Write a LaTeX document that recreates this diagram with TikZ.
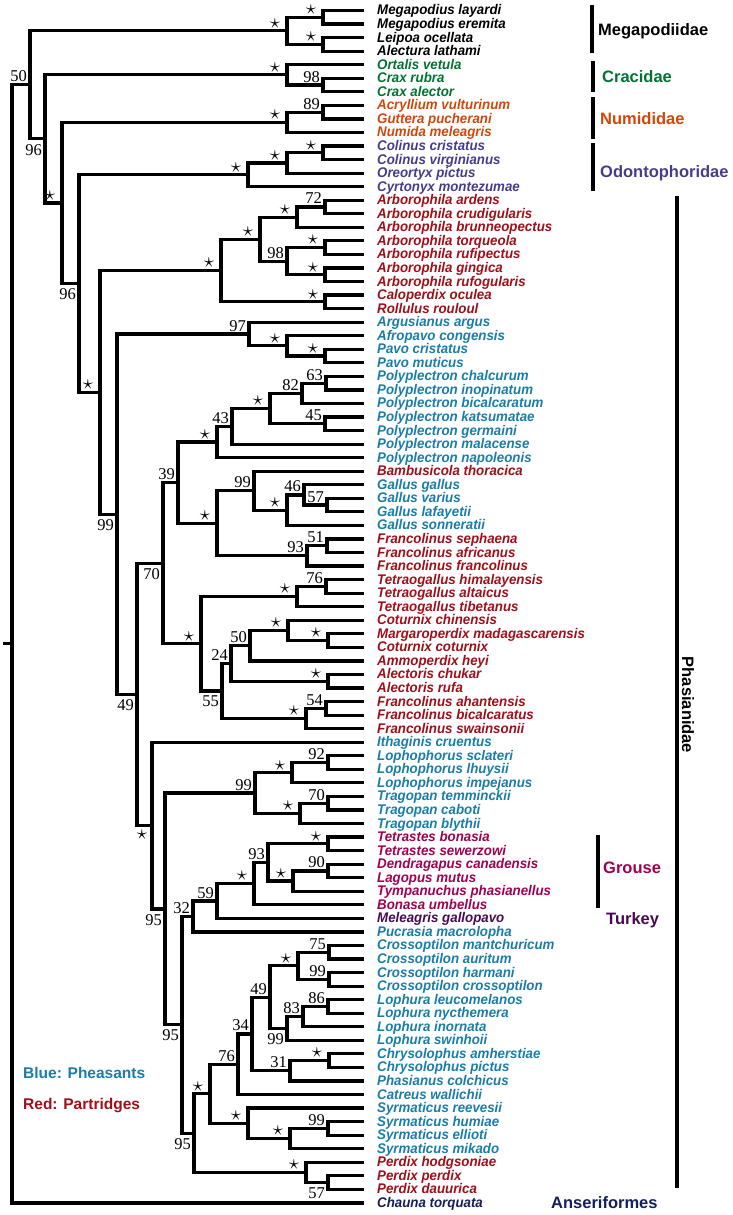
\documentclass[tikz,border=0pt]{standalone}
\usepackage{fontspec}
\setmainfont{Liberation Serif}
\setsansfont{Liberation Sans}
\newfontfamily\taxfont[FakeStretch=0.95]{Liberation Sans}
\usetikzlibrary{calc}

\definecolor{cracid}{RGB}{0,115,50}
\definecolor{numid}{RGB}{210,70,10}
\definecolor{odonto}{RGB}{70,60,140}
\definecolor{partr}{RGB}{160,15,25}
\definecolor{pheas}{RGB}{25,125,168}
\definecolor{grouse}{RGB}{160,0,80}
\definecolor{turkey}{RGB}{70,10,80}
\definecolor{anser}{RGB}{20,30,90}

% clade: name, x, upper child, lower child
\newcommand{\mkclade}[4]{%
  \path let \p1=(#3), \p2=(#4) in coordinate (#1) at (#2pt, {(\y1+\y2)/2});
  \draw[branch] (#3) -| (#1) |- (#4);}
\newcommand{\bsup}[2]{\node[bs, anchor=base east] at ([xshift=-3pt, yshift=3pt]#1) {#2};}
\newcommand{\bsdn}[2]{\node[bs, anchor=north east] at ([xshift=-3pt, yshift=-5pt]#1) {#2};}
\newcommand{\stup}[1]{\node[st] at ([xshift=-12pt, yshift=7.5pt]#1) {$\star$};}
\newcommand{\stdn}[1]{\node[st] at ([xshift=-10pt, yshift=-9pt]#1) {$\star$};}

\begin{document}
\begin{tikzpicture}[x=1pt, y=-1pt,
    branch/.style={line width=3.2pt},
    bar/.style={line width=3.2pt},
    bs/.style={font=\fontsize{16.5}{16.5}\selectfont, inner sep=0pt},
    st/.style={font=\fontsize{21}{21}\selectfont, inner sep=0pt},
    taxon/.style={font=\taxfont\bfseries\itshape\fontsize{14}{14}\selectfont, inner sep=0pt, anchor=base west},
    grp/.style={font=\sffamily\bfseries\fontsize{16.5}{16.5}\selectfont, inner sep=0pt, anchor=base west}]
    \useasboundingbox (0,0) rectangle (732,1215);

    % tips
    \foreach \sp/\col [count=\i] in {Megapodius layardi/black, Megapodius eremita/black, Leipoa ocellata/black, Alectura lathami/black,
        Ortalis vetula/cracid, Crax rubra/cracid, Crax alector/cracid,
        Acryllium vulturinum/numid, Guttera pucherani/numid, Numida meleagris/numid,
        Colinus cristatus/odonto, Colinus virginianus/odonto, Oreortyx pictus/odonto, Cyrtonyx montezumae/odonto,
        Arborophila ardens/partr, Arborophila crudigularis/partr, Arborophila brunneopectus/partr, Arborophila torqueola/partr,
        Arborophila rufipectus/partr, Arborophila gingica/partr, Arborophila rufogularis/partr, Caloperdix oculea/partr, Rollulus rouloul/partr,
        Argusianus argus/pheas, Afropavo congensis/pheas, Pavo cristatus/pheas, Pavo muticus/pheas,
        Polyplectron chalcurum/pheas, Polyplectron inopinatum/pheas, Polyplectron bicalcaratum/pheas, Polyplectron katsumatae/pheas,
        Polyplectron germaini/pheas, Polyplectron malacense/pheas, Polyplectron napoleonis/pheas,
        Bambusicola thoracica/partr, Gallus gallus/pheas, Gallus varius/pheas, Gallus lafayetii/pheas, Gallus sonneratii/pheas,
        Francolinus sephaena/partr, Francolinus africanus/partr, Francolinus francolinus/partr,
        Tetraogallus himalayensis/partr, Tetraogallus altaicus/partr, Tetraogallus tibetanus/partr,
        Coturnix chinensis/partr, Margaroperdix madagascarensis/partr, Coturnix coturnix/partr, Ammoperdix heyi/partr,
        Alectoris chukar/partr, Alectoris rufa/partr, Francolinus ahantensis/partr, Francolinus bicalcaratus/partr, Francolinus swainsonii/partr,
        Ithaginis cruentus/pheas, Lophophorus sclateri/pheas, Lophophorus lhuysii/pheas, Lophophorus impejanus/pheas,
        Tragopan temminckii/pheas, Tragopan caboti/pheas, Tragopan blythii/pheas,
        Tetrastes bonasia/grouse, Tetrastes sewerzowi/grouse, Dendragapus canadensis/grouse, Lagopus mutus/grouse,
        Tympanuchus phasianellus/grouse, Bonasa umbellus/grouse, Meleagris gallopavo/turkey, Pucrasia macrolopha/pheas,
        Crossoptilon mantchuricum/pheas, Crossoptilon auritum/pheas, Crossoptilon harmani/pheas, Crossoptilon crossoptilon/pheas,
        Lophura leucomelanos/pheas, Lophura nycthemera/pheas, Lophura inornata/pheas, Lophura swinhoii/pheas,
        Chrysolophus amherstiae/pheas, Chrysolophus pictus/pheas, Phasianus colchicus/pheas, Catreus wallichii/pheas,
        Syrmaticus reevesii/pheas, Syrmaticus humiae/pheas, Syrmaticus ellioti/pheas, Syrmaticus mikado/pheas,
        Perdix hodgsoniae/partr, Perdix perdix/partr, Perdix dauurica/partr, Chauna torquata/anser} {
        \coordinate (t\i) at (364, {10.5+13.55*(\i-1)});
        \node[taxon, text=\col] at ([xshift=13pt, yshift=-4.5pt]t\i) {\sp};
    }

    % Megapodiidae, Cracidae, Numididae, Odontophoridae
    \mkclade{a1}{323}{t1}{t2} \stup{a1}
    \mkclade{a2}{323}{t3}{t4} \stup{a2}
    \mkclade{mega}{287}{a1}{a2} \stup{mega}
    \mkclade{c1}{323}{t6}{t7} \bsup{c1}{98}
    \mkclade{crac}{287}{t5}{c1} \stup{crac}
    \mkclade{n1}{323}{t8}{t9} \bsup{n1}{89}
    \mkclade{numi}{287}{n1}{t10} \stup{numi}
    \mkclade{o1}{323}{t11}{t12} \stup{o1}
    \mkclade{o2}{287}{o1}{t13} \stup{o2}
    \mkclade{odon}{248}{o2}{t14} \stup{odon}

    % Arborophila
    \mkclade{r1}{325}{t15}{t16} \bsup{r1}{72}
    \mkclade{r2}{297}{r1}{t17} \stup{r2}
    \mkclade{r3}{325}{t18}{t19} \stup{r3}
    \mkclade{r4}{325}{t20}{t21} \stup{r4}
    \mkclade{r5}{287}{r3}{r4} \bsup{r5}{98}
    \mkclade{r6}{260}{r2}{r5} \stup{r6}
    \mkclade{r7}{325}{t22}{t23} \stup{r7}
    \mkclade{arbo}{221}{r6}{r7} \stup{arbo}

    % Pavo, Polyplectron
    \mkclade{p1}{325}{t26}{t27} \stup{p1}
    \mkclade{p2}{287}{t25}{p1} \stup{p2}
    \mkclade{pavo}{249}{t24}{p2} \bsup{pavo}{97}
    \mkclade{y1}{326}{t28}{t29} \bsup{y1}{63}
    \mkclade{y2}{302}{y1}{t30} \bsup{y2}{82}
    \mkclade{y3}{325}{t31}{t32} \bsup{y3}{45}
    \mkclade{y4}{270}{y2}{y3} \stup{y4}
    \mkclade{y5}{232}{y4}{t33} \bsup{y5}{43}
    \mkclade{poly}{217}{y5}{t34} \stup{poly}

    % Gallus, Francolinus
    \mkclade{g1}{327}{t37}{t38} \bsup{g1}{57}
    \mkclade{g2}{304}{t36}{g1} \bsup{g2}{46}
    \mkclade{g3}{287}{g2}{t39} \stup{g3}
    \mkclade{g4}{254}{t35}{g3} \bsup{g4}{99}
    \mkclade{f1}{327}{t40}{t41} \bsup{f1}{51}
    \mkclade{f2}{307}{f1}{t42} \bsup{f2}{93}
    \mkclade{g5}{217}{g4}{f2} \stup{g5}
    \mkclade{q39}{178}{poly}{g5} \bsup{q39}{39}

    % Tetraogallus, Coturnix, Alectoris
    \mkclade{e1}{326}{t43}{t44} \bsup{e1}{76}
    \mkclade{e2}{297}{e1}{t45} \stup{e2}
    \mkclade{e3}{328}{t47}{t48} \stup{e3}
    \mkclade{e4}{288}{t46}{e3} \stup{e4}
    \mkclade{e5}{250}{e4}{t49} \bsup{e5}{50}
    \mkclade{e6}{328}{t50}{t51} \stup{e6}
    \mkclade{e7}{231}{e5}{e6} \bsup{e7}{24}
    \mkclade{e8}{326}{t52}{t53} \bsup{e8}{54}
    \mkclade{e9}{306}{e8}{t54} \stup{e9}
    \mkclade{e10}{222}{e7}{e9} \bsdn{e10}{55}
    \mkclade{e11}{201}{e2}{e10} \stup{e11}
    \mkclade{q70}{163}{q39}{e11} \bsdn{q70}{70}

    % Lophophorus, Tragopan
    \mkclade{l1}{328}{t56}{t57} \bsup{l1}{92}
    \mkclade{l2}{292}{l1}{t58} \stup{l2}
    \mkclade{l3}{328}{t59}{t60} \bsup{l3}{70}
    \mkclade{l4}{300}{l3}{t61} \stup{l4}
    \mkclade{l5}{255}{l2}{l4} \bsup{l5}{99}

    % grouse, turkey
    \mkclade{u1}{328}{t62}{t63} \stup{u1}
    \mkclade{u2}{328}{t64}{t65} \bsup{u2}{90}
    \mkclade{u3}{293}{u2}{t66} \stup{u3}
    \mkclade{u4}{268}{u1}{u3} \bsup{u4}{93}
    \mkclade{u5}{254}{u4}{t67} \stup{u5}
    \mkclade{u6}{217}{u5}{t68} \bsup{u6}{59}
    \mkclade{u7}{193}{u6}{t69} \bsup{u7}{32}

    % Crossoptilon, Lophura, Chrysolophus
    \mkclade{h1}{329}{t70}{t71} \bsup{h1}{75}
    \mkclade{h2}{329}{t72}{t73} \bsup{h2}{99}
    \mkclade{h3}{298}{h1}{h2} \stup{h3}
    \mkclade{h4}{328}{t74}{t75} \bsup{h4}{86}
    \mkclade{h5}{303}{h4}{t76} \bsup{h5}{83}
    \mkclade{h6}{287}{h5}{t77} \bsdn{h6}{99}
    \mkclade{h7}{270}{h3}{h6} \bsup{h7}{49}
    \mkclade{h8}{329}{t78}{t79} \stup{h8}
    \mkclade{h9}{290}{h8}{t80} \bsup{h9}{31}
    \mkclade{h10}{252}{h7}{h9} \bsup{h10}{34}
    \mkclade{h11}{238}{h10}{t81} \bsup{h11}{76}

    % Syrmaticus, Perdix
    \mkclade{s1}{328}{t83}{t84} \bsup{s1}{99}
    \mkclade{s2}{290}{s1}{t85} \stup{s2}
    \mkclade{s3}{248}{t82}{s2} \stup{s3}
    \mkclade{s4}{210}{h11}{s3} \stup{s4}
    \mkclade{d1}{328}{t87}{t88} \bsdn{d1}{57}
    \mkclade{d2}{306}{t86}{d1} \stup{d2}
    \mkclade{d3}{194}{s4}{d2} \bsdn{d3}{95}
    \mkclade{d4}{182}{u7}{d3} \bsdn{d4}{95}
    \mkclade{d5}{165}{l5}{d4} \bsdn{d5}{95}
    \mkclade{d6}{152}{t55}{d5} \stdn{d6}

    % backbone
    \mkclade{q49}{137}{q70}{d6} \bsdn{q49}{49}
    \mkclade{q99}{117}{pavo}{q49} \bsdn{q99}{99}
    \mkclade{k1}{100}{arbo}{q99} \stup{k1}
    \mkclade{k2}{79}{odon}{k1} \bsdn{k2}{96}
    \mkclade{k3}{62}{numi}{k2} \stup{k3}
    \mkclade{k4}{45}{crac}{k3} \bsdn{k4}{96}
    \mkclade{k5}{30}{mega}{k4} \bsup{k5}{50}
    \mkclade{root}{12}{k5}{t89}
    \coordinate (stem) at ([xshift=-9pt]root);
    \draw[branch] (root) -- (stem);

    % groups
    \draw[bar] (592,5) -- (592,53);
    \node[grp] at (598,36) {Megapodiidae};
    \draw[bar] (593,61) -- (593,92);
    \node[grp, text=cracid] at (602,82) {Cracidae};
    \draw[bar] (593,97) -- (593,139);
    \node[grp, text=numid] at (600,124) {Numididae};
    \draw[bar] (593,143) -- (593,191);
    \node[grp, text=odonto] at (600,177) {Odontophoridae};
    \draw[bar] (677,196) -- (677,1188);
    \node[grp, anchor=center, rotate=-90] at (688,705) {Phasianidae};
    \draw[bar] (598,835) -- (598,908);
    \node[grp, text=grouse] at (603,873) {Grouse};
    \node[grp, text=turkey] at (606,924) {Turkey};
    \node[grp, text=anser] at (551,1208) {Anseriformes};

    % legend
    \node[grp, text=pheas, font=\sffamily\bfseries\fontsize{15.5}{15.5}\selectfont] at (23,1078) {Blue: Pheasants};
    \node[grp, text=partr, font=\sffamily\bfseries\fontsize{15.5}{15.5}\selectfont] at (23,1109) {Red: Partridges};
\end{tikzpicture}
\end{document}
